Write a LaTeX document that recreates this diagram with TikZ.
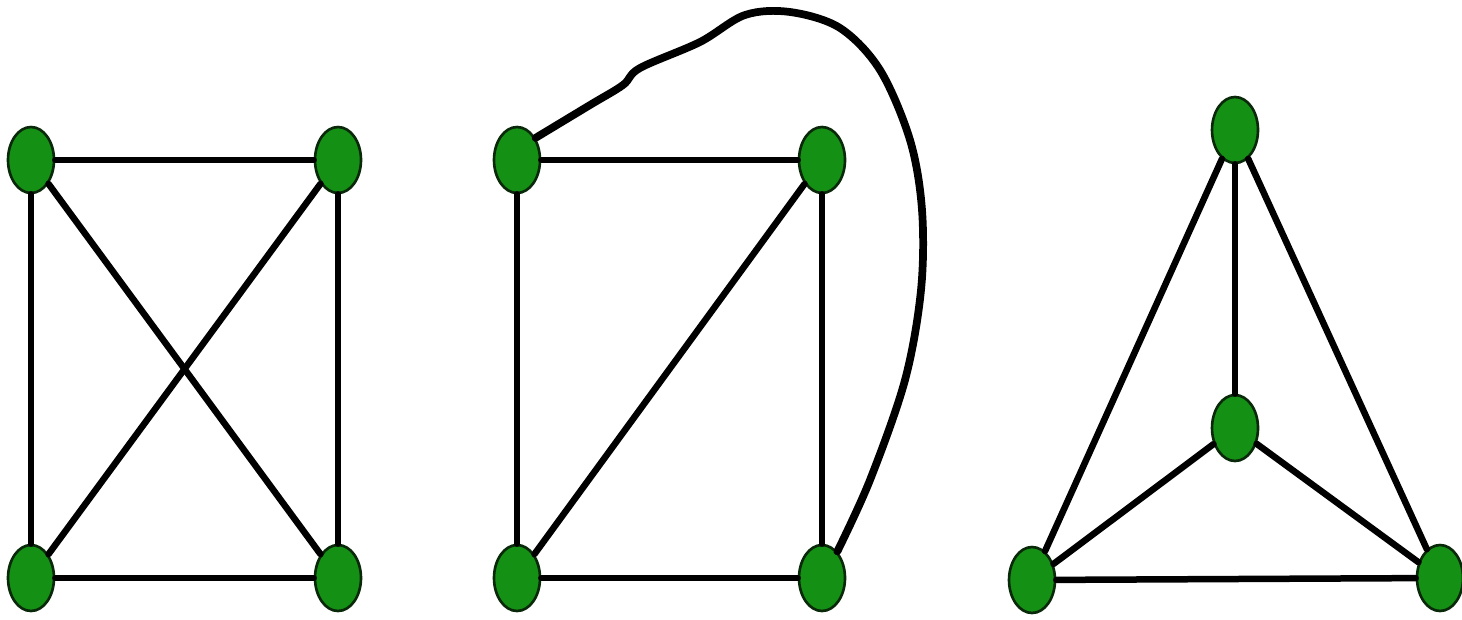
\documentclass[tikz,border=0pt]{standalone}
\usetikzlibrary{shapes.geometric}
\definecolor{vgreen}{RGB}{20,145,20}
\definecolor{vedge}{RGB}{10,40,10}
\begin{document}
\begin{tikzpicture}[x=0.02cm,y=-0.02cm,
  vtx/.style={ellipse,fill=vgreen,draw=vedge,line width=1.5pt,minimum width=0.92cm,minimum height=1.32cm,inner sep=0pt},
  edge/.style={line width=3.7pt,black,line cap=round}]
\useasboundingbox[fill=white] (0,0) rectangle (1462,619);
% graph 1
\node[vtx] (a1) at (31,160) {};
\node[vtx] (b1) at (338,160) {};
\node[vtx] (c1) at (31,578) {};
\node[vtx] (d1) at (338,578) {};
% graph 2
\node[vtx] (a2) at (517,160) {};
\node[vtx] (b2) at (822,160) {};
\node[vtx] (c2) at (517,578) {};
\node[vtx] (d2) at (822,578) {};
% graph 3
\node[vtx] (a3) at (1235,130) {};
\node[vtx] (m3) at (1235,428) {};
\node[vtx] (c3) at (1032,580) {};
\node[vtx] (d3) at (1440,578) {};
\begin{scope}[edge]
\draw (a1) -- (b1);
\draw (c1) -- (d1);
\draw (a1) -- (c1);
\draw (b1) -- (d1);
\draw (a1) -- (d1);
\draw (b1) -- (c1);
\draw (a2) -- (b2);
\draw (c2) -- (d2);
\draw (a2) -- (c2);
\draw (b2) -- (d2);
\draw (b2) -- (c2);
\draw (a3) -- (m3);
\draw (a3) -- (c3);
\draw (a3) -- (d3);
\draw (m3) -- (c3);
\draw (m3) -- (d3);
\draw (c3) -- (d3);
\draw[line width=4.4pt] plot[smooth,tension=0.55] coordinates {(a2.50) (590,105) (623,85) (640,68) (700,42) (745,15) (790,12) (840,28) (880,70) (910,140) (922,210) (921,290) (905,380) (870,480) (d2.60)};
\end{scope}
\end{tikzpicture}
\end{document}
